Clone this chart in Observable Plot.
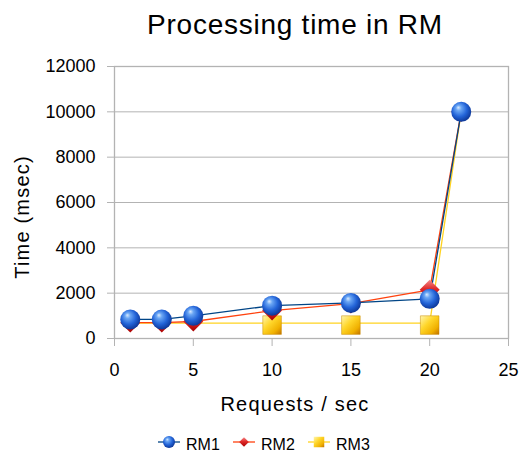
<!DOCTYPE html>
<html>
<head>
<meta charset="utf-8">
<script src="https://cdn.jsdelivr.net/npm/d3@7"></script>
<script src="https://cdn.jsdelivr.net/npm/@observablehq/plot@0.6"></script>
<style>
  html, body { margin: 0; padding: 0; background: #fff; }
  #wrap { position: relative; width: 521px; height: 452px; overflow: hidden; font-family: "Liberation Sans", Arial, sans-serif; color: #000; }
  .txt { position: absolute; white-space: nowrap; line-height: 1; }
  #title { top: 11px; left: 295px; transform: translateX(-50%); font-size: 28px; letter-spacing: 0.75px; }
  #xlabel { top: 394px; left: 295px; transform: translateX(-50%); font-size: 20px; letter-spacing: 1.2px; }
  #ylabel { top: 217px; left: 22px; transform: translate(-50%, -50%) rotate(-90deg); font-size: 20px; letter-spacing: 1.2px; }
  #plot { position: absolute; top: 50px; left: 0; }
  #legend { position: absolute; top: 430px; left: 0; }
</style>
</head>
<body>
<div id="wrap">
  <div id="title" class="txt">Processing time in RM</div>
  <div id="plot"></div>
  <div id="xlabel" class="txt">Requests / sec</div>
  <div id="ylabel" class="txt">Time (msec)</div>
  <div id="legend"></div>
</div>
<script>
// ---- data ----
const requests = [1, 3, 5, 10, 15, 20, 22];
const rm1 = [840, 840, 1000, 1450, 1570, 1750, 10000];
const rm2 = [700, 700, 750, 1230, 1540, 2150, 10000];
const rm3 = [680, 680, 680, 680, 680, 680, 10000];
// RM3 points whose square symbol is visible (others hidden under RM1/RM2 symbols)
const rm3Visible = [10, 15, 20];
const seriesNames = ["RM1", "RM2", "RM3"];
const xTicks = [0, 5, 10, 15, 20, 25];
const yTicks = [0, 2000, 4000, 6000, 8000, 10000, 12000];

const rows = (vals) => requests.map((x, i) => ({x, y: vals[i]}));
const d1 = rows(rm1), d2 = rows(rm2), d3s = rows(rm3);

const gray = "#b3b3b3";
const lineColors = ["#004586", "#ff420e", "#ffd320"];

const chart = Plot.plot({
  width: 521,
  height: 380,
  marginTop: 16,
  marginBottom: 92,
  marginLeft: 114,
  marginRight: 13,
  style: {fontFamily: "'Liberation Sans', Arial, sans-serif", fontSize: "18px", color: "#000", background: "transparent"},
  x: {domain: [0, 25]},
  y: {domain: [0, 12000]},
  marks: [
    Plot.gridY(yTicks, {stroke: gray, strokeOpacity: 1}),
    Plot.frame({stroke: gray, strokeWidth: 1.3}),
    Plot.axisY({ticks: yTicks, tickSize: 7, tickPadding: 12, stroke: gray, strokeOpacity: 1, fill: "#000", tickFormat: d => String(d), label: null}),
    Plot.axisX({ticks: xTicks, tickSize: 8, tickPadding: 17, stroke: gray, strokeOpacity: 1, fill: "#000", tickFormat: d => String(d), label: null}),
    Plot.line(d3s, {x: "x", y: "y", stroke: lineColors[2], strokeWidth: 1.3}),
    Plot.line(d2, {x: "x", y: "y", stroke: lineColors[1], strokeWidth: 1.3}),
    Plot.line(d1, {x: "x", y: "y", stroke: lineColors[0], strokeWidth: 1.3}),
    Plot.dot(d3s.filter(d => rm3Visible.includes(d.x)), {x: "x", y: "y", symbol: "square", r: 10.5, dy: 2, fill: "url(#gSquare)", stroke: "#c98a00", strokeWidth: 0.5}),
    Plot.dot(d2, {x: "x", y: "y", symbol: "diamond2", r: 9, fill: "url(#gDiamond)", stroke: "none"}),
    Plot.dot(d1, {x: "x", y: "y", symbol: "circle", r: 10, fill: "url(#gSphere)", stroke: "none"})
  ]
});

function addDefs(sel, suffix) {
  const defs = sel.insert("defs", ":first-child");
  const rg = defs.append("radialGradient").attr("id", "gSphere" + suffix)
    .attr("cx", "45%").attr("cy", "42%").attr("r", "62%").attr("fx", "35%").attr("fy", "28%");
  [["0%", "#d8eaff"], ["22%", "#6aa6f4"], ["60%", "#2364d8"], ["100%", "#0a318f"]]
    .forEach(([o, c]) => rg.append("stop").attr("offset", o).attr("stop-color", c));
  const dg = defs.append("linearGradient").attr("id", "gDiamond" + suffix)
    .attr("x1", "0").attr("y1", "0").attr("x2", "0").attr("y2", "1");
  [["0%", "#f48a8a"], ["45%", "#e02a2a"], ["100%", "#a80000"]]
    .forEach(([o, c]) => dg.append("stop").attr("offset", o).attr("stop-color", c));
  const sg = defs.append("linearGradient").attr("id", "gSquare" + suffix)
    .attr("x1", "0").attr("y1", "0").attr("x2", "1").attr("y2", "1");
  [["0%", "#fff6b0"], ["40%", "#ffd62a"], ["75%", "#f0b000"], ["100%", "#c07000"]]
    .forEach(([o, c]) => sg.append("stop").attr("offset", o).attr("stop-color", c));
}
addDefs(d3.select(chart), "");
document.getElementById("plot").appendChild(chart);

// ---- legend ----
const lg = d3.select("#legend").append("svg").attr("width", 521).attr("height", 22);
addDefs(lg, "2");
const legendX = [158, 233, 308];
const symbols = [d3.symbolCircle, d3.symbolDiamond2, d3.symbolSquare];
const symSizes = [Math.PI * 36, 60, 110];
const fills = ["url(#gSphere2)", "url(#gDiamond2)", "url(#gSquare2)"];
seriesNames.forEach((name, i) => {
  const g = lg.append("g").attr("transform", `translate(${legendX[i]},12)`);
  g.append("line").attr("x1", 0).attr("x2", 22).attr("y1", 0).attr("y2", 0)
    .attr("stroke", lineColors[i]).attr("stroke-width", 1.3);
  g.append("path").attr("transform", "translate(11,0)")
    .attr("d", d3.symbol(symbols[i], symSizes[i])()).attr("fill", fills[i]);
  g.append("text").attr("x", 28).attr("y", 8)
    .attr("font-family", "'Liberation Sans', Arial, sans-serif").attr("font-size", 16)
    .text(name);
});
</script>
</body>
</html>
